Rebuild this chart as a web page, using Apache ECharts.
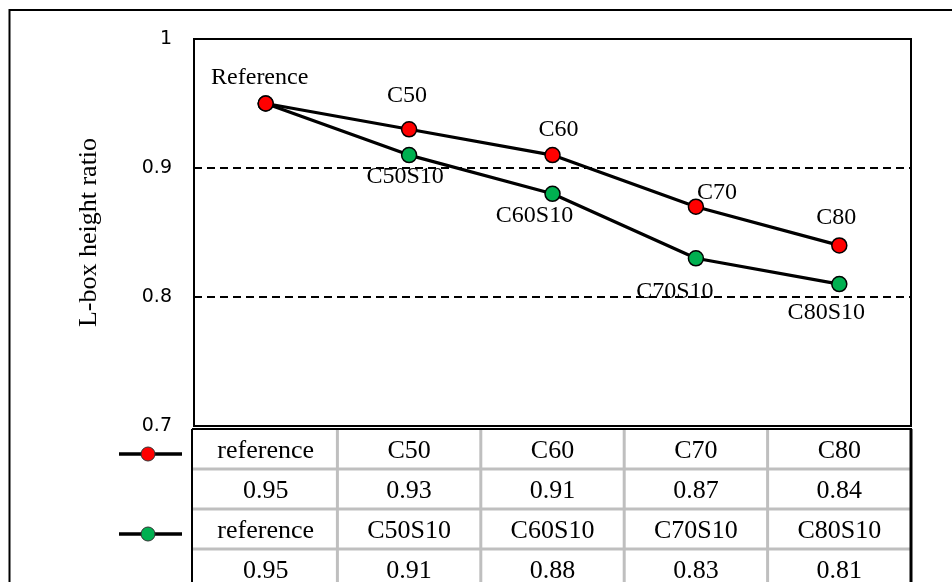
<!DOCTYPE html>
<html>
<head>
<meta charset="utf-8">
<script src="https://cdn.jsdelivr.net/npm/echarts@6/dist/echarts.min.js"></script>
<style>
  html, body { margin: 0; padding: 0; background: #fff; }
  #chart { width: 952px; height: 582px; }
</style>
</head>
<body>
<div id="chart"></div>
<script>
// Mix names shown in the table header rows
const categories = ['reference', 'C50', 'C60', 'C70', 'C80'];
const slagCategories = ['reference', 'C50S10', 'C60S10', 'C70S10', 'C80S10'];
// Names printed next to the points
const concreteLabels = ['Reference', 'C50', 'C60', 'C70', 'C80'];
const slagLabels = ['', 'C50S10', 'C60S10', 'C70S10', 'C80S10'];
// L-box height ratio (H2/H1)
const concreteValues = [0.95, 0.93, 0.91, 0.87, 0.84];
const slagValues = [0.95, 0.91, 0.88, 0.83, 0.81];
// Y axis range
const yMin = 0.7, yMax = 1, yStep = 0.1;

// Label nudges (pixels from the point centre)
const concreteNudge = [[-6, -26], [-2, -34], [6, -25], [21, -14], [-3, -28]];
const slagNudge = [[0, 0], [-4, 22], [-18, 22], [-21, 33], [-13, 29]];

const SERIF = '"Liberation Serif", "Times New Roman", serif';
const SANS = '"DejaVu Sans", sans-serif';
const RED = '#FF0000';
const GREEN = '#00B050';

function pointData(values, labels, nudge) {
  return values.map((v, i) => ({
    value: v,
    label: labels[i] ? { show: true, formatter: labels[i], offset: nudge[i] } : { show: false }
  }));
}

function lineSeries(name, values, labels, nudge, color) {
  return {
    name: name,
    type: 'line',
    data: pointData(values, labels, nudge),
    symbol: 'circle',
    symbolSize: 15,
    itemStyle: { color: color, borderColor: '#000', borderWidth: 1.5 },
    lineStyle: { color: '#000', width: 3.2 },
    emphasis: { disabled: true },
    label: { position: 'inside', fontFamily: SERIF, fontSize: 24, color: '#000' },
    animation: false
  };
}

const chart = echarts.init(document.getElementById('chart'), null, { renderer: 'canvas' });

const option = {
  backgroundColor: '#fff',
  animation: false,
  grid: {
    left: 194, top: 39, right: 41, bottom: 156,
    show: true, borderColor: '#000', borderWidth: 2
  },
  xAxis: {
    type: 'category',
    data: categories,
    boundaryGap: true,
    axisLine: { show: true, lineStyle: { color: '#000', width: 2 } },
    axisTick: { show: false },
    axisLabel: { show: false },
    splitLine: { show: false }
  },
  yAxis: {
    type: 'value',
    min: yMin, max: yMax, interval: yStep,
    name: 'L-box height ratio',
    nameLocation: 'middle',
    nameGap: 92,
    nameTextStyle: { fontFamily: SERIF, fontSize: 26, color: '#000' },
    axisLine: { show: true, lineStyle: { color: '#000', width: 2 } },
    axisTick: { show: false },
    axisLabel: { fontFamily: SANS, fontSize: 19, color: '#000', margin: 22 },
    splitLine: { show: true, lineStyle: { color: '#000', width: 2, type: [8, 5] } }
  },
  series: [
    lineSeries('C-S10', slagValues, slagLabels, slagNudge, GREEN),
    lineSeries('C', concreteValues, concreteLabels, concreteNudge, RED)
  ]
};
chart.setOption(option);

// Data table under the plot, columns follow the category bands
const xs = categories.map((c, i) => chart.convertToPixel({ xAxisIndex: 0 }, i));
const band = xs[1] - xs[0];
const plotLeft = xs[0] - band / 2;
const plotRight = xs[xs.length - 1] + band / 2;
const plotBottom = chart.convertToPixel({ yAxisIndex: 0 }, yMin);
const tableTop = plotBottom + 3;
const rowH = 40;
const tableLeft = plotLeft - 2;
const tableRows = [
  categories,
  concreteValues.map(v => v.toFixed(2)),
  slagCategories,
  slagValues.map(v => v.toFixed(2))
];

const g = [];
// outer frame
g.push({ type: 'rect', shape: { x: 9.5, y: 10, width: 1000, height: 1000 },
  style: { fill: null, stroke: '#000', lineWidth: 2 }, silent: true, z: 1 });

// gray inner rules
for (let r = 1; r < tableRows.length; r++) {
  const y = tableTop + r * rowH;
  g.push({ type: 'line', shape: { x1: tableLeft, y1: y, x2: plotRight, y2: y },
    style: { stroke: '#BFBFBF', lineWidth: 3 }, silent: true, z: 2 });
}
for (let c = 1; c < categories.length; c++) {
  const x = plotLeft + c * band;
  g.push({ type: 'line', shape: { x1: x, y1: tableTop, x2: x, y2: 600 },
    style: { stroke: '#BFBFBF', lineWidth: 3 }, silent: true, z: 2 });
}
// black table border
g.push({ type: 'line', shape: { x1: tableLeft, y1: tableTop, x2: plotRight + 1, y2: tableTop },
  style: { stroke: '#000', lineWidth: 2 }, silent: true, z: 3 });
g.push({ type: 'line', shape: { x1: tableLeft, y1: tableTop, x2: tableLeft, y2: 600 },
  style: { stroke: '#000', lineWidth: 2 }, silent: true, z: 3 });
g.push({ type: 'line', shape: { x1: plotRight, y1: tableTop, x2: plotRight, y2: 600 },
  style: { stroke: '#000', lineWidth: 3 }, silent: true, z: 3 });

// cell texts
tableRows.forEach((row, r) => {
  const cy = tableTop + r * rowH + rowH / 2 + 2;
  row.forEach((txt, c) => {
    g.push({ type: 'text', x: xs[c], y: cy, silent: true, z: 4,
      style: { text: txt, fontFamily: SERIF, fontSize: 26, fill: '#000',
        align: 'center', verticalAlign: 'middle' } });
  });
});

// legend keys beside the name rows
[[0, RED], [2, GREEN]].forEach(([r, color]) => {
  const cy = tableTop + r * rowH + rowH / 2 + 5;
  g.push({ type: 'line', shape: { x1: 119, y1: cy, x2: 182, y2: cy },
    style: { stroke: '#000', lineWidth: 3.5 }, silent: true, z: 4 });
  g.push({ type: 'circle', shape: { cx: 148, cy: cy, r: 7 },
    style: { fill: color, stroke: '#333', lineWidth: 1 }, silent: true, z: 5 });
});

chart.setOption({ graphic: { elements: g } });
</script>
</body>
</html>
